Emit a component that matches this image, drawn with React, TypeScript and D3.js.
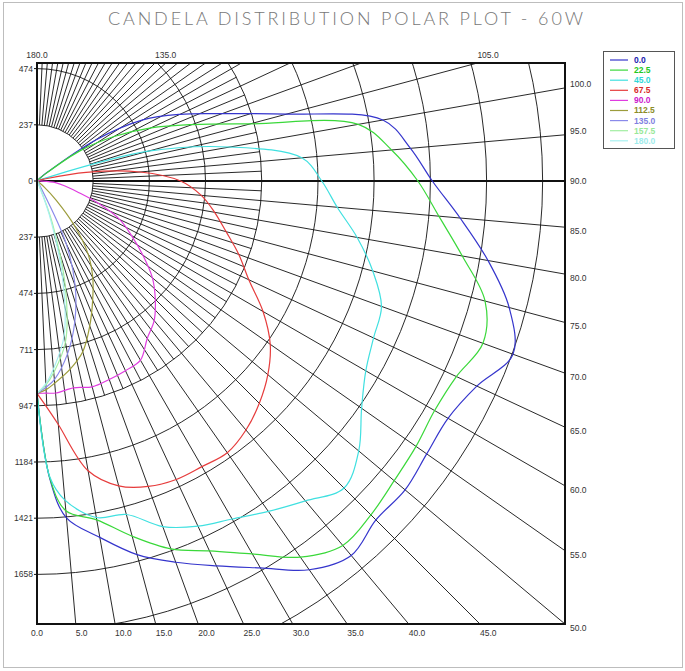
import React from 'react';
import * as d3 from 'd3';

// vertical angles (deg from nadir)
const angles = [0, 2.5, 5, 10, 15, 20, 25, 30, 35, 40, 45, 50, 55, 60, 65, 70, 75, 80, 85, 90,
  95, 100, 105, 110, 115, 120, 125, 130, 135, 140, 145, 150, 155, 160, 165, 170, 175, 180];

// candela per horizontal plane
const plane0 = [895, 1260, 1425, 1525, 1630, 1710, 1790, 1883, 2000, 2060, 2020, 2025, 2005, 2000, 2045, 2135, 2060, 1930, 1790, 1666,
  1580, 1480, 1090, 830, 665, 515, 300, 60, 12, 8, 6, 5, 4, 4, 3, 3, 3, 3];
const plane22 = [895, 1255, 1395, 1450, 1550, 1650, 1720, 1815, 1935, 2005, 1990, 1965, 1950, 1935, 1950, 2000, 1955, 1820, 1700, 1605,
  1500, 1375, 930, 695, 530, 375, 225, 50, 12, 8, 6, 5, 4, 4, 3, 3, 3, 3];
const plane45 = [895, 1250, 1350, 1440, 1455, 1550, 1605, 1645, 1700, 1760, 1830, 1770, 1670, 1600, 1565, 1545, 1465, 1370, 1270, 1200,
  1120, 825, 485, 30, 8, 6, 5, 4, 4, 3, 3, 3, 3, 3, 3, 3, 3, 3];
const plane67 = [895, 955, 1030, 1240, 1330, 1370, 1388, 1390, 1398, 1370, 1325, 1270, 1200, 1100, 985, 905, 825, 760, 695, 605,
  435, 210, 30, 8, 5, 4, 4, 3, 3, 3, 3, 3, 3, 3, 3, 3, 3, 3];
const plane90 = [895, 895, 897, 885, 898, 890, 882, 872, 810, 768, 705, 635, 545, 460, 385, 275, 175, 120, 78, 15,
  5, 4, 3, 3, 3, 3, 3, 3, 3, 3, 3, 3, 3, 3, 3, 3, 3, 3];
const plane112 = [895, 880, 855, 805, 745, 650, 555, 470, 375, 245, 115, 40, 10, 5, 4, 3, 3, 3, 3, 3,
  3, 3, 3, 3, 3, 3, 3, 3, 3, 3, 3, 3, 3, 3, 3, 3, 3, 3];
const plane135 = [895, 870, 840, 740, 615, 470, 290, 40, 8, 5, 4, 3, 3, 3, 3, 3, 3, 3, 3, 3,
  3, 3, 3, 3, 3, 3, 3, 3, 3, 3, 3, 3, 3, 3, 3, 3, 3, 3];
const plane157 = [895, 860, 810, 690, 460, 190, 25, 6, 4, 3, 3, 3, 3, 3, 3, 3, 3, 3, 3, 3,
  3, 3, 3, 3, 3, 3, 3, 3, 3, 3, 3, 3, 3, 3, 3, 3, 3, 3];
const plane180 = [895, 855, 795, 660, 410, 150, 15, 5, 4, 3, 3, 3, 3, 3, 3, 3, 3, 3, 3, 3,
  3, 3, 3, 3, 3, 3, 3, 3, 3, 3, 3, 3, 3, 3, 3, 3, 3, 3];

const planeNames = ['0.0', '22.5', '45.0', '67.5', '90.0', '112.5', '135.0', '157.5', '180.0'];
const planeData = [plane0, plane22, plane45, plane67, plane90, plane112, plane135, plane157, plane180];
const lineColors = ['#3535cc', '#3ad83a', '#40e0e0', '#e63c3c', '#e03ce0', '#9c9c3c', '#8a8aea', '#a2eea2', '#a8f0f0'];
const textColors = ['#2020b0', '#22c822', '#30d8d8', '#d82828', '#cc20cc', '#8c8c28', '#8080e0', '#98e898', '#a0ecec'];

// grid + axis labels
const ringStep = 236.85;
const ringCount = 9;
const leftRings = [-2, -1, 0, 1, 2, 3, 4, 5, 6, 7];
const rightAngles = [100, 95, 90, 85, 80, 75, 70, 65, 60, 55, 50];
const bottomAngles = [0, 5, 10, 15, 20, 25, 30, 35, 40, 45];
const topAngles = [180, 135, 105];

const W = 685;
const H = 671;
const left = 37, right = 565, top = 63, bottom = 624;
const cx = 37, cy = 181;
const rad = Math.PI / 180;

const App: React.FC = () => {
  const r = d3.scaleLinear().domain([0, ringStep]).range([0, 56.2]);
  const pt = (deg: number, R: number) => [cx + R * Math.sin(deg * rad), cy + R * Math.cos(deg * rad)];

  const majors = d3.range(5, 180, 5).filter((a) => a !== 90);
  const minors = d3.range(2.5, 180, 5);

  const line = d3
    .lineRadial<number>()
    .angle((_, i) => Math.PI - angles[i] * rad)
    .radius((d) => r(d))
    .curve(d3.curveCatmullRom.alpha(0.5));

  const labelFont = { fontFamily: 'Liberation Sans, Arial, sans-serif', fontSize: 8.5, fill: '#333' };

  return (
    <svg width={W} height={H} style={{ position: 'absolute', left: 0, top: 0, background: '#fff' }}>
      <defs>
        <clipPath id="plotClip">
          <rect x={left} y={top} width={right - left} height={bottom - top} />
        </clipPath>
      </defs>
      <rect x={3.5} y={2.5} width={679} height={665} fill="#fff" stroke="#bdbdbd" />
      <text
        x={W / 2 + 3}
        y={25}
        textAnchor="middle"
        textLength={475}
        lengthAdjust="spacing"
        style={{ fontFamily: 'Lato, Open Sans, sans-serif', fontSize: 18, fill: '#777', fontWeight: 300 }}
      >
        CANDELA DISTRIBUTION POLAR PLOT - 60W
      </text>

      <g clipPath="url(#plotClip)" stroke="#111" fill="none" strokeWidth={0.9}>
        {d3.range(1, ringCount + 1).map((k) => {
          const R = r(k * ringStep);
          return <path key={'c' + k} d={`M${cx},${cy - R}A${R},${R} 0 0 1 ${cx},${cy + R}`} />;
        })}
        {majors.map((a) => {
          const [x1, y1] = pt(a, r(ringStep));
          const [x2, y2] = pt(a, 1200);
          return <line key={'m' + a} x1={x1} y1={y1} x2={x2} y2={y2} />;
        })}
        {minors.map((a) => {
          const [x1, y1] = pt(a, r(ringStep));
          const [x2, y2] = pt(a, r(4 * ringStep));
          return <line key={'n' + a} x1={x1} y1={y1} x2={x2} y2={y2} />;
        })}
        <line x1={left} y1={cy} x2={right} y2={cy} strokeWidth={2} />
      </g>

      <g fill="none" strokeWidth={1.2}>
        {planeData.map((vals, i) => (
          <path key={planeNames[i]} d={line(vals) || ''} stroke={lineColors[i]} transform={`translate(${cx},${cy})`} />
        ))}
      </g>

      <rect x={left} y={top} width={right - left} height={bottom - top} fill="none" stroke="#111" strokeWidth={2} />

      {leftRings.map((k) => {
        const y = cy + r(k * ringStep);
        return (
          <g key={'l' + k}>
            <line x1={left - 3} x2={left} y1={y} y2={y} stroke="#111" />
            <text x={left - 4} y={y} dy="0.35em" textAnchor="end" style={labelFont}>
              {Math.round(Math.abs(k) * ringStep)}
            </text>
          </g>
        );
      })}
      {rightAngles.map((a) => {
        const y = cy + (right - cx) / Math.tan(a * rad);
        const off = a < 90 ? 4 : a > 90 ? -4 : 0;
        return (
          <text key={'r' + a} x={right + 5} y={y + off} dy="0.35em" style={labelFont}>
            {a.toFixed(1)}
          </text>
        );
      })}
      {bottomAngles.map((a) => {
        const x = cx + (bottom - cy) * Math.tan(a * rad);
        return (
          <text key={'b' + a} x={a === 0 ? x : x} y={bottom + 12} textAnchor={a === 0 ? 'middle' : 'start'} style={labelFont}>
            {a.toFixed(1)}
          </text>
        );
      })}
      {topAngles.map((a) => {
        const x = cx + (cy - top) * Math.tan((180 - a) * rad);
        return (
          <text key={'t' + a} x={x} y={top - 5} textAnchor={a === 180 ? 'middle' : 'start'} style={labelFont}>
            {a.toFixed(1)}
          </text>
        );
      })}

      <g>
        <rect x={603.5} y={51.5} width={71} height={97} fill="#fff" stroke="#555" />
        {planeNames.map((name, i) => {
          const y = 60 + i * 10.1;
          return (
            <g key={'lg' + name}>
              <line x1={610} x2={628} y1={y} y2={y} stroke={lineColors[i]} strokeWidth={1.2} />
              <text x={634} y={y} dy="0.35em" style={{ ...labelFont, fontWeight: 700, fill: textColors[i] }}>
                {name}
              </text>
            </g>
          );
        })}
      </g>
    </svg>
  );
};

export default App;
